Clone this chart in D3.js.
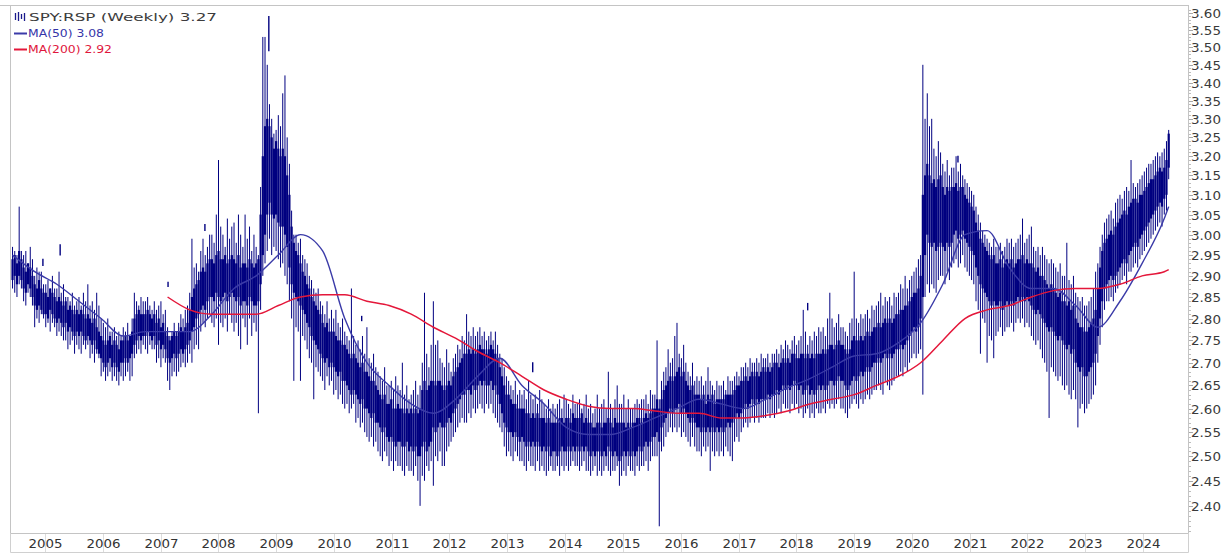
<!DOCTYPE html>
<html><head><meta charset="utf-8">
<script src="https://cdn.jsdelivr.net/npm/d3@7"></script>
<style>html,body{margin:0;padding:0;background:#fff;}svg{display:block;}</style>
</head><body>
<svg id="chart" width="1226" height="555"></svg>
<script>
// ---- DATA (bi-weekly OHLC of SPY:RSP) ----
const periodStart = "2004-06-09";   // first bar
const periodDays = 14;
const opens = [
2.89,2.90,2.88,2.90,2.89, 2.87,2.86,2.88,2.87,2.85, 2.83,2.82,2.83,2.82,2.81, 2.81,2.80,2.82,2.81,2.80,
2.79,2.80,2.79,2.78,2.79, 2.77,2.78,2.77,2.76,2.77, 2.76,2.77,2.76,2.75,2.76, 2.75,2.74,2.75,2.73,2.72,
2.71,2.70,2.69,2.70,2.71, 2.69,2.70,2.69,2.68,2.70, 2.70,2.71,2.70,2.71,2.72, 2.74,2.75,2.76,2.75,2.76,
2.76,2.77,2.76,2.75,2.76, 2.74,2.75,2.73,2.74,2.73, 2.71,2.70,2.71,2.72,2.71, 2.72,2.73,2.72,2.73,2.74,
2.75,2.77,2.78,2.80,2.81, 2.82,2.83,2.82,2.84,2.85, 2.85,2.84,2.86,2.85,2.84, 2.85,2.86,2.84,2.85,2.86,
2.85,2.84,2.85,2.83,2.84, 2.84,2.83,2.85,2.84,2.83, 2.83,2.84,2.88,2.95,3.00, 3.05,3.08,3.05,3.04,3.05,
3.03,3.02,3.02,3.00,2.97, 2.92,2.88,2.86,2.85,2.84, 2.83,2.82,2.81,2.79,2.78, 2.76,2.75,2.74,2.73,2.72,
2.71,2.70,2.71,2.69,2.70, 2.69,2.68,2.67,2.68,2.66, 2.66,2.65,2.64,2.63,2.64, 2.63,2.62,2.61,2.62,2.60,
2.60,2.59,2.58,2.59,2.57, 2.57,2.56,2.55,2.56,2.54, 2.53,2.54,2.53,2.52,2.53, 2.53,2.52,2.52,2.53,2.51,
2.52,2.51,2.52,2.50,2.50, 2.52,2.53,2.51,2.52,2.53, 2.56,2.55,2.56,2.57,2.56, 2.56,2.57,2.58,2.57,2.59,
2.60,2.61,2.62,2.63,2.63, 2.64,2.64,2.63,2.65,2.64, 2.65,2.66,2.65,2.66,2.65, 2.65,2.66,2.64,2.65,2.63,
2.61,2.59,2.57,2.56,2.55, 2.55,2.54,2.55,2.54,2.53, 2.54,2.53,2.52,2.53,2.52, 2.53,2.52,2.53,2.52,2.51,
2.52,2.51,2.52,2.50,2.51, 2.51,2.50,2.51,2.52,2.51, 2.51,2.52,2.51,2.52,2.51, 2.52,2.51,2.52,2.51,2.52,
2.51,2.50,2.51,2.50,2.51, 2.51,2.50,2.51,2.50,2.52, 2.51,2.50,2.51,2.50,2.49, 2.50,2.51,2.50,2.51,2.50,
2.51,2.50,2.51,2.52,2.51, 2.52,2.53,2.52,2.53,2.54, 2.54,2.55,2.53,2.56,2.57, 2.58,2.59,2.60,2.59,2.60,
2.60,2.61,2.59,2.60,2.59, 2.58,2.57,2.58,2.57,2.56, 2.56,2.55,2.56,2.55,2.56, 2.55,2.56,2.55,2.56,2.55,
2.56,2.55,2.56,2.57,2.56, 2.57,2.58,2.59,2.58,2.59, 2.60,2.61,2.60,2.61,2.62, 2.61,2.62,2.61,2.62,2.62,
2.62,2.63,2.62,2.63,2.63, 2.64,2.63,2.64,2.65,2.64, 2.65,2.64,2.65,2.66,2.65, 2.64,2.65,2.63,2.64,2.65,
2.63,2.64,2.63,2.64,2.65, 2.64,2.65,2.64,2.65,2.66, 2.66,2.65,2.66,2.67,2.66, 2.66,2.65,2.64,2.65,2.66,
2.67,2.66,2.67,2.68,2.67, 2.68,2.69,2.68,2.69,2.70, 2.70,2.71,2.70,2.71,2.72, 2.71,2.72,2.71,2.72,2.73,
2.73,2.74,2.73,2.74,2.75, 2.76,2.77,2.78,2.77,2.78, 2.80,2.85,2.95,3.00,2.98, 2.97,2.98,2.96,2.97,2.98,
2.97,2.96,2.98,2.97,2.98, 3.00,3.01,2.99,3.00,3.01, 2.99,2.98,2.97,2.96,2.95, 2.92,2.90,2.88,2.87,2.86,
2.85,2.84,2.83,2.84,2.83, 2.83,2.84,2.82,2.83,2.84, 2.83,2.84,2.83,2.84,2.85, 2.84,2.85,2.84,2.85,2.84,
2.83,2.82,2.81,2.82,2.81, 2.80,2.79,2.78,2.77,2.78, 2.77,2.76,2.75,2.76,2.75, 2.74,2.73,2.74,2.72,2.73,
2.70,2.69,2.68,2.69,2.67, 2.67,2.68,2.69,2.70,2.72, 2.76,2.80,2.84,2.87,2.88, 2.89,2.90,2.89,2.90,2.91,
2.92,2.93,2.94,2.93,2.95, 2.96,2.97,2.98,2.97,2.99, 3.00,3.01,3.02,3.03,3.04, 3.05,3.06,3.07,3.08,3.07,
3.09,3.10,3.17];
const closes = [
2.94,2.95,2.93,2.96,2.94, 2.92,2.91,2.93,2.92,2.90, 2.88,2.87,2.89,2.87,2.86, 2.86,2.85,2.87,2.86,2.85,
2.84,2.85,2.84,2.83,2.84, 2.82,2.83,2.82,2.81,2.82, 2.81,2.82,2.81,2.80,2.81, 2.80,2.79,2.80,2.78,2.77,
2.76,2.75,2.74,2.75,2.76, 2.74,2.75,2.74,2.73,2.75, 2.75,2.76,2.75,2.76,2.77, 2.80,2.81,2.82,2.81,2.81,
2.81,2.82,2.81,2.80,2.81, 2.79,2.80,2.78,2.79,2.77, 2.76,2.75,2.76,2.77,2.76, 2.77,2.78,2.77,2.78,2.79,
2.82,2.85,2.87,2.88,2.89, 2.91,2.92,2.91,2.93,2.94, 2.94,2.93,2.95,2.96,2.94, 2.94,2.95,2.93,2.94,2.95,
2.94,2.93,2.95,2.92,2.93, 2.93,2.92,2.94,2.93,2.92, 2.93,2.94,3.05,3.20,3.28, 3.30,3.28,3.25,3.22,3.24,
3.22,3.20,3.22,3.20,3.15, 3.10,3.02,2.98,2.96,2.95, 2.93,2.91,2.90,2.88,2.87, 2.85,2.84,2.83,2.82,2.81,
2.79,2.78,2.79,2.77,2.77, 2.77,2.76,2.75,2.75,2.74, 2.74,2.73,2.72,2.71,2.72, 2.71,2.70,2.69,2.70,2.68,
2.68,2.67,2.66,2.66,2.65, 2.64,2.63,2.62,2.63,2.61, 2.61,2.62,2.60,2.60,2.61, 2.60,2.60,2.59,2.60,2.59,
2.60,2.59,2.60,2.59,2.60, 2.64,2.66,2.64,2.65,2.66, 2.66,2.65,2.66,2.66,2.65, 2.64,2.65,2.66,2.65,2.67,
2.68,2.69,2.70,2.71,2.72, 2.72,2.73,2.72,2.73,2.72, 2.73,2.74,2.73,2.73,2.72, 2.73,2.74,2.73,2.72,2.71,
2.69,2.67,2.65,2.63,2.63, 2.62,2.61,2.61,2.60,2.60, 2.60,2.60,2.59,2.59,2.58, 2.59,2.58,2.59,2.58,2.58,
2.58,2.57,2.58,2.57,2.57, 2.57,2.57,2.58,2.58,2.57, 2.58,2.58,2.57,2.59,2.58, 2.58,2.58,2.59,2.57,2.58,
2.57,2.57,2.56,2.56,2.57, 2.57,2.56,2.57,2.57,2.58, 2.57,2.56,2.58,2.57,2.57, 2.57,2.57,2.56,2.57,2.56,
2.57,2.57,2.58,2.58,2.57, 2.58,2.59,2.58,2.59,2.60, 2.60,2.62,2.60,2.62,2.64, 2.65,2.66,2.67,2.66,2.67,
2.68,2.69,2.67,2.68,2.66, 2.65,2.64,2.65,2.63,2.63, 2.63,2.62,2.63,2.61,2.63, 2.62,2.63,2.61,2.62,2.62,
2.62,2.62,2.63,2.63,2.63, 2.63,2.64,2.65,2.65,2.66, 2.66,2.67,2.66,2.67,2.68, 2.67,2.68,2.67,2.68,2.69,
2.68,2.69,2.68,2.69,2.70, 2.70,2.69,2.70,2.71,2.70, 2.71,2.70,2.72,2.72,2.71, 2.71,2.72,2.72,2.71,2.72,
2.71,2.72,2.71,2.72,2.72, 2.72,2.73,2.72,2.73,2.74, 2.74,2.73,2.74,2.75,2.74, 2.74,2.73,2.72,2.73,2.75,
2.76,2.75,2.75,2.76,2.75, 2.76,2.77,2.76,2.77,2.78, 2.78,2.79,2.78,2.79,2.80, 2.79,2.80,2.79,2.80,2.81,
2.81,2.82,2.82,2.83,2.83, 2.84,2.85,2.86,2.86,2.87, 2.90,3.10,3.15,3.18,3.15, 3.13,3.14,3.12,3.14,3.15,
3.12,3.10,3.12,3.11,3.12, 3.12,3.13,3.11,3.12,3.12, 3.10,3.09,3.08,3.07,3.06, 3.03,3.01,2.99,2.98,2.97,
2.96,2.95,2.94,2.95,2.93, 2.93,2.94,2.92,2.93,2.94, 2.93,2.94,2.92,2.93,2.94, 2.94,2.95,2.93,2.94,2.93,
2.93,2.92,2.91,2.92,2.90, 2.90,2.89,2.88,2.87,2.88, 2.87,2.86,2.85,2.86,2.84, 2.84,2.83,2.84,2.82,2.83,
2.80,2.79,2.78,2.78,2.77, 2.77,2.78,2.79,2.80,2.82, 2.87,2.92,2.96,2.98,2.99, 3.00,3.01,3.00,3.02,3.03,
3.04,3.05,3.06,3.05,3.07, 3.08,3.09,3.09,3.08,3.10, 3.10,3.11,3.12,3.13,3.14, 3.14,3.15,3.16,3.17,3.16,
3.17,3.19,3.26];
const highs = [
2.97,2.96,2.95,3.07,2.96, 2.95,2.96,2.93,2.97,2.94, 2.90,2.92,2.91,2.91,2.88, 2.88,2.89,2.87,2.90,2.87,
2.87,2.91,2.86,2.88,2.85, 2.85,2.84,2.86,2.83,2.84, 2.85,2.83,2.86,2.84,2.88, 2.83,2.84,2.82,2.86,2.83,
2.80,2.79,2.78,2.80,2.77, 2.77,2.78,2.76,2.77,2.76, 2.78,2.77,2.79,2.76,2.80, 2.86,2.84,2.83,2.85,2.84,
2.84,2.85,2.83,2.82,2.84, 2.82,2.83,2.84,2.81,2.82, 2.78,2.76,2.77,2.79,2.77, 2.79,2.81,2.80,2.82,2.83,
2.86,2.99,2.92,2.93,2.91, 2.96,2.99,2.95,2.97,3.00, 3.00,2.98,3.05,3.19,3.02, 3.00,2.97,3.04,2.99,3.02,
3.03,2.98,3.05,3.00,2.97, 3.05,2.99,3.02,2.96,3.00, 2.97,2.95,3.12,3.53,3.53, 3.45,3.34,3.30,3.26,3.27,
3.31,3.28,3.37,3.42,3.25, 3.18,3.06,3.00,3.00,2.98, 2.99,2.95,2.94,2.93,2.90, 2.89,2.87,2.86,2.87,2.84,
2.83,2.81,2.84,2.80,2.82, 2.80,2.82,2.79,2.78,2.80, 2.77,2.76,2.75,2.87,2.76, 2.74,2.75,2.73,2.76,2.72,
2.78,2.71,2.70,2.72,2.69, 2.68,2.67,2.66,2.69,2.65, 2.65,2.66,2.64,2.67,2.65, 2.64,2.70,2.63,2.65,2.62,
2.63,2.64,2.66,2.63,2.65, 2.70,2.86,2.72,2.69,2.74, 2.84,2.74,2.75,2.71,2.70, 2.69,2.73,2.70,2.68,2.71,
2.72,2.74,2.73,2.76,2.75, 2.81,2.77,2.76,2.78,2.76, 2.77,2.78,2.76,2.77,2.75, 2.76,2.77,2.75,2.77,2.74,
2.72,2.71,2.69,2.67,2.66, 2.65,2.64,2.66,2.63,2.64, 2.63,2.64,2.62,2.66,2.63, 2.62,2.63,2.61,2.64,2.62,
2.61,2.60,2.62,2.60,2.61, 2.60,2.61,2.62,2.60,2.63, 2.62,2.61,2.60,2.63,2.61, 2.61,2.62,2.60,2.61,2.63,
2.60,2.61,2.59,2.60,2.63, 2.60,2.61,2.62,2.60,2.68, 2.61,2.60,2.62,2.65,2.61, 2.61,2.63,2.60,2.62,2.60,
2.60,2.61,2.62,2.61,2.62, 2.62,2.63,2.61,2.64,2.63, 2.63,2.75,2.62,2.66,2.68, 2.69,2.73,2.70,2.71,2.76,
2.79,2.72,2.71,2.74,2.70, 2.68,2.67,2.70,2.66,2.67, 2.66,2.67,2.65,2.66,2.69, 2.66,2.65,2.64,2.66,2.65,
2.65,2.66,2.64,2.67,2.66, 2.66,2.67,2.68,2.67,2.69, 2.69,2.70,2.69,2.71,2.70, 2.70,2.71,2.70,2.72,2.71,
2.71,2.72,2.70,2.72,2.72, 2.73,2.72,2.74,2.73,2.75, 2.74,2.73,2.75,2.76,2.74, 2.75,2.76,2.82,2.77,2.74,
2.76,2.75,2.77,2.76,2.78, 2.77,2.78,2.76,2.80,2.86, 2.80,2.78,2.79,2.81,2.78, 2.78,2.77,2.76,2.79,2.80,
2.91,2.80,2.79,2.81,2.80, 2.81,2.82,2.80,2.83,2.82, 2.83,2.84,2.86,2.83,2.85, 2.84,2.85,2.83,2.86,2.85,
2.86,2.88,2.87,2.90,2.87, 2.89,2.90,2.91,2.92,2.94, 2.95,3.45,3.30,3.37,3.28, 3.30,3.22,3.20,3.24,3.21,
3.18,3.16,3.19,3.15,3.17, 3.17,3.20,3.16,3.18,3.15, 3.14,3.13,3.12,3.11,3.10, 3.07,3.05,3.03,3.01,3.00,
2.99,2.98,2.97,2.99,2.97, 2.97,2.98,2.96,2.97,2.99, 2.98,2.99,2.97,2.98,2.99, 3.00,3.04,2.98,2.99,3.00,
3.02,2.97,2.96,2.97,2.95, 2.97,2.95,2.94,2.93,2.94, 2.93,2.92,2.91,2.93,2.90, 2.90,2.98,2.89,2.88,2.90,
2.86,2.85,2.84,2.85,2.83, 2.83,2.84,2.85,2.87,2.91, 2.93,2.97,3.00,3.03,3.04, 3.05,3.06,3.04,3.08,3.09,
3.10,3.09,3.11,3.12,3.11, 3.19,3.13,3.12,3.13,3.14, 3.15,3.16,3.17,3.18,3.18, 3.19,3.20,3.21,3.20,3.21,
3.22,3.24,3.27];
const lows = [
2.87,2.86,2.85,2.88,2.87, 2.84,2.83,2.86,2.85,2.83, 2.78,2.80,2.79,2.81,2.80, 2.78,2.79,2.77,2.79,2.78,
2.76,2.77,2.76,2.75,2.75, 2.73,2.74,2.75,2.72,2.74, 2.73,2.72,2.74,2.73,2.74, 2.71,2.72,2.70,2.72,2.71,
2.67,2.68,2.66,2.67,2.68, 2.66,2.67,2.66,2.65,2.67, 2.66,2.67,2.68,2.66,2.67, 2.71,2.72,2.73,2.72,2.74,
2.73,2.72,2.74,2.73,2.73, 2.70,2.71,2.69,2.71,2.70, 2.66,2.64,2.67,2.68,2.67, 2.68,2.69,2.70,2.69,2.70,
2.72,2.70,2.73,2.74,2.73, 2.77,2.79,2.78,2.80,2.81, 2.79,2.78,2.80,2.74,2.79, 2.78,2.80,2.77,2.81,2.79,
2.77,2.79,2.76,2.73,2.80, 2.78,2.74,2.80,2.76,2.79, 2.77,2.59,2.82,2.90,2.93, 2.96,2.99,2.95,2.97,2.96,
2.94,2.92,2.93,2.90,2.88, 2.84,2.80,2.66,2.78,2.77, 2.66,2.76,2.75,2.73,2.71, 2.70,2.62,2.69,2.68,2.67,
2.66,2.64,2.67,2.65,2.66, 2.63,2.64,2.62,2.63,2.61, 2.60,2.61,2.59,2.60,2.61, 2.57,2.58,2.56,2.57,2.55,
2.54,2.53,2.54,2.52,2.53, 2.51,2.50,2.49,2.51,2.50, 2.48,2.49,2.47,2.49,2.48, 2.48,2.47,2.46,2.48,2.47,
2.47,2.46,2.48,2.45,2.40, 2.46,2.45,2.48,2.47,2.49, 2.44,2.50,2.49,2.51,2.48, 2.48,2.51,2.52,2.53,2.54,
2.55,2.56,2.57,2.58,2.57, 2.57,2.59,2.58,2.60,2.59, 2.60,2.61,2.60,2.59,2.61, 2.60,2.61,2.59,2.58,2.57,
2.56,2.55,2.52,2.50,2.51, 2.50,2.49,2.51,2.50,2.49, 2.49,2.48,2.47,2.49,2.48, 2.48,2.47,2.49,2.47,2.48,
2.47,2.46,2.47,2.48,2.47, 2.47,2.48,2.46,2.48,2.47, 2.48,2.47,2.48,2.49,2.48, 2.48,2.47,2.48,2.49,2.47,
2.47,2.46,2.47,2.48,2.46, 2.47,2.46,2.47,2.48,2.47, 2.46,2.47,2.47,2.48,2.44, 2.46,2.47,2.46,2.48,2.47,
2.47,2.46,2.48,2.47,2.48, 2.48,2.49,2.47,2.49,2.50, 2.50,2.50,2.36,2.51,2.52, 2.54,2.55,2.56,2.55,2.56,
2.55,2.56,2.54,2.55,2.54, 2.53,2.52,2.54,2.52,2.51, 2.51,2.50,2.52,2.51,2.52, 2.47,2.51,2.50,2.51,2.50,
2.51,2.50,2.52,2.51,2.50, 2.49,2.53,2.54,2.53,2.55, 2.56,2.57,2.56,2.57,2.58, 2.57,2.58,2.57,2.58,2.58,
2.58,2.59,2.58,2.59,2.58, 2.59,2.60,2.59,2.61,2.60, 2.60,2.59,2.61,2.60,2.61, 2.59,2.60,2.58,2.59,2.60,
2.58,2.59,2.58,2.60,2.59, 2.59,2.60,2.59,2.61,2.60, 2.61,2.60,2.61,2.62,2.60, 2.60,2.59,2.58,2.60,2.61,
2.62,2.61,2.60,2.62,2.61, 2.62,2.63,2.62,2.63,2.64, 2.64,2.65,2.64,2.63,2.66, 2.65,2.64,2.65,2.66,2.67,
2.67,2.68,2.67,2.69,2.68, 2.70,2.71,2.72,2.71,2.72, 2.73,2.63,2.85,2.88,2.86, 2.88,2.87,2.86,2.89,2.90,
2.90,2.88,2.91,2.89,2.92, 2.93,2.94,2.92,2.93,2.95, 2.92,2.91,2.90,2.89,2.88, 2.84,2.82,2.72,2.80,2.79,
2.70,2.76,2.75,2.71,2.76, 2.77,2.78,2.76,2.77,2.78, 2.78,2.79,2.77,2.79,2.80, 2.79,2.80,2.78,2.79,2.78,
2.76,2.75,2.74,2.75,2.73, 2.71,2.70,2.68,2.58,2.69, 2.68,2.67,2.66,2.67,2.65, 2.64,2.65,2.63,2.62,2.64,
2.62,2.56,2.60,2.61,2.59, 2.60,2.61,2.62,2.63,2.65, 2.70,2.74,2.78,2.82,2.84, 2.84,2.85,2.84,2.86,2.87,
2.88,2.89,2.90,2.88,2.91, 2.91,2.92,2.93,2.92,2.94, 2.95,2.96,2.97,2.98,2.99, 3.00,3.01,3.02,3.03,3.02,
3.05,3.06,3.14];

// isolated stray weekly prints
const strayDates = ["2004-12-18","2005-04-06","2007-02-17","2007-10-08","2008-11-15","2010-06-25","2013-06-10","2018-03-14","2020-10-19"];
const strayHighs = [2.940,2.975,2.885,3.025,3.590,2.805,2.700,2.835,3.200];
const strayLows  = [2.925,2.950,2.875,3.010,3.490,2.795,2.680,2.820,3.185];

// moving averages, sampled every 10 bars (last sample = last bar)
const maStep = 10;
const ma50 = [2.95,2.91,2.88,2.84,2.80,2.76,2.77,2.77,2.77,2.81, 2.87,2.90,2.95,3.00,2.96,2.80,2.70,2.65,2.61,2.59,
 2.62,2.67,2.71,2.65,2.61,2.56,2.545,2.545,2.56,2.58, 2.60,2.62,2.61,2.60,2.62,2.645,2.665,2.69,2.715,2.72,
 2.745,2.79,2.88,3.00,3.01,2.92,2.87,2.87,2.83,2.78, 2.84,2.93,3.04,3.07];
const ma200Start = 70;
const ma200 = [2.85,2.82,2.81,2.81,2.81,2.83,2.85,2.855,2.855,2.84, 2.83,2.81,2.78,2.755,2.725,2.70,2.67,2.64,2.62,2.605,
 2.60,2.60,2.595,2.59,2.59,2.58,2.58,2.585,2.595,2.61, 2.62,2.63,2.65,2.67,2.70,2.75,2.80,2.82,2.83,2.85,
 2.865,2.87,2.87,2.88,2.90,2.91,2.915];

const yTicks = [2.40,2.45,2.50,2.55,2.60,2.65,2.70,2.75,2.80,2.85,2.90,2.95,3.00,3.05,3.10,3.15,3.20,3.25,3.30,3.35,3.40,3.45,3.50,3.55,3.60];
const years = [2005,2006,2007,2008,2009,2010,2011,2012,2013,2014,2015,2016,2017,2018,2019,2020,2021,2022,2023,2024];
const legendTitle = "SPY:RSP (Weekly) 3.27";
const legendMA50 = "MA(50) 3.08";
const legendMA200 = "MA(200) 2.92";

// ---- CHART ----
const svg = d3.select("#chart");
const P = {left:10, right:1188, top:5, bottom:533};
const x = d3.scaleTime().domain([new Date(2004,4,24), new Date(2024,9,12)]).range([P.left, P.right]);
const y = d3.scaleLog().domain([2.347, 3.624]).range([P.bottom, P.top]);
const parse = d3.timeParse("%Y-%m-%d");
const t0 = parse(periodStart);
const n = Math.min(opens.length, closes.length, highs.length, lows.length);
const bars = d3.range(n).map(i => ({d: d3.timeDay.offset(t0, periodDays*i), o: opens[i], h: highs[i], l: lows[i], c: closes[i]}));

svg.append("rect").attr("width",1226).attr("height",555).attr("fill","#fff");

// frame
const frameCol = "#c4c4c4";
svg.append("rect").attr("x",P.left+0.5).attr("y",P.top+0.5).attr("width",P.right-P.left).attr("height",P.bottom-P.top)
  .attr("fill","none").attr("stroke",frameCol);
svg.append("line").attr("x1",0).attr("x2",P.left).attr("y1",P.top+0.5).attr("y2",P.top+0.5).attr("stroke",frameCol);
svg.append("line").attr("x1",P.left+0.5).attr("x2",P.right+0.5).attr("y1",552.5).attr("y2",552.5).attr("stroke","#d0d0d0");
svg.append("line").attr("x1",P.left+0.5).attr("x2",P.left+0.5).attr("y1",P.bottom).attr("y2",552.5).attr("stroke","#d0d0d0");
svg.append("line").attr("x1",P.right+0.5).attr("x2",P.right+0.5).attr("y1",P.bottom).attr("y2",552.5).attr("stroke","#d0d0d0");

// x axis year ticks and labels
const gx = svg.append("g");
years.forEach(yr => {
  const xx = Math.round(x(new Date(yr,0,1))) + 0.5;
  gx.append("line").attr("x1",xx).attr("x2",xx).attr("y1",P.bottom+1).attr("y2",552).attr("stroke","#dcdcdc");
  gx.append("text").attr("x",xx).attr("y",548).attr("text-anchor","middle")
    .attr("font-family","DejaVu Sans, Verdana, sans-serif").attr("font-size",12.5).attr("fill","#333")
    .attr("textLength",34).attr("lengthAdjust","spacingAndGlyphs").text(String(yr));
});

// y axis (log) ticks
const gy = svg.append("g");
const minor = d3.range(235, 362).map(v => v/100).filter(v => y(v) >= P.top && y(v) <= P.bottom);
minor.forEach(v => {
  const yy = Math.round(y(v)) + 0.5;
  gy.append("line").attr("x1",P.right+1).attr("x2",P.right+3).attr("y1",yy).attr("y2",yy).attr("stroke","#bdbdbd");
});
yTicks.forEach(v => {
  const yy = Math.round(y(v)) + 0.5;
  gy.append("line").attr("x1",P.right+1).attr("x2",P.right+5).attr("y1",yy).attr("y2",yy).attr("stroke","#a8a8a8");
  gy.append("text").attr("x",1191).attr("y",yy+4).attr("font-family","DejaVu Sans, Verdana, sans-serif")
    .attr("font-size",11.5).attr("fill","#3a3a3a").attr("textLength",30).attr("lengthAdjust","spacingAndGlyphs")
    .text(v.toFixed(2));
});

// clip
svg.append("clipPath").attr("id","clip").append("rect").attr("x",P.left+1).attr("y",P.top+1)
  .attr("width",P.right-P.left-1).attr("height",P.bottom-P.top-1);
const plot = svg.append("g").attr("clip-path","url(#clip)");

// price bars: 1px high-low line + dense open/close body
plot.append("g").selectAll("line").data(bars).join("line")
  .attr("x1",d=>x(d.d)).attr("x2",d=>x(d.d)).attr("y1",d=>y(d.h)).attr("y2",d=>y(d.l))
  .attr("stroke","#000080").attr("stroke-width",1);
plot.append("g").selectAll("rect").data(bars).join("rect")
  .attr("x",d=>x(d.d)-1.1).attr("width",2.2)
  .attr("y",d=>y(Math.max(d.o,d.c))).attr("height",d=>Math.max(1,y(Math.min(d.o,d.c))-y(Math.max(d.o,d.c))))
  .attr("fill","#000080");
// stray prints
plot.append("g").selectAll("line").data(strayDates.map((s,i)=>({d:parse(s),h:strayHighs[i],l:strayLows[i]}))).join("line")
  .attr("x1",d=>x(d.d)).attr("x2",d=>x(d.d)).attr("y1",d=>y(d.h)-0.5).attr("y2",d=>y(d.l)+0.5)
  .attr("stroke","#000080").attr("stroke-width",1.4);

// moving averages
const idxDate = i => d3.timeDay.offset(t0, periodDays*i);
const ma50Pts = ma50.map((v,k) => ({d: idxDate(Math.min(k*maStep, n-1)), v}));
const ma200Pts = ma200.map((v,k) => ({d: idxDate(Math.min(ma200Start + k*maStep, n-1)), v}));
const line = d3.line().x(d=>x(d.d)).y(d=>y(d.v)).curve(d3.curveMonotoneX);
plot.append("path").datum(ma50Pts).attr("d",line).attr("fill","none").attr("stroke","#3b3ba8").attr("stroke-width",1.4);
plot.append("path").datum(ma200Pts).attr("d",line).attr("fill","none").attr("stroke","#e4173a").attr("stroke-width",1.5);

// legend
const lg = svg.append("g").attr("font-family","DejaVu Sans, Verdana, sans-serif").attr("font-size",11);
[[15,13,20],[18,12,21],[21,14,19],[24,13,21]].forEach(([bx,t,b]) => {
  lg.append("line").attr("x1",bx+0.5).attr("x2",bx+0.5).attr("y1",t).attr("y2",b).attr("stroke","#1a1a8c").attr("stroke-width",1.3);
});
lg.append("text").attr("x",29).attr("y",20.5).attr("fill","#3c3c3c").attr("textLength",188).attr("lengthAdjust","spacingAndGlyphs").text(legendTitle);
lg.append("line").attr("x1",14).attr("x2",27).attr("y1",33.5).attr("y2",33.5).attr("stroke","#3b3ba8").attr("stroke-width",2);
lg.append("text").attr("x",28).attr("y",37).attr("fill","#3535a8").attr("textLength",76).attr("lengthAdjust","spacingAndGlyphs").text(legendMA50);
lg.append("line").attr("x1",14).attr("x2",27).attr("y1",49.5).attr("y2",49.5).attr("stroke","#e4173a").attr("stroke-width",2);
lg.append("text").attr("x",28).attr("y",53).attr("fill","#e0163c").attr("textLength",84).attr("lengthAdjust","spacingAndGlyphs").text(legendMA200);
</script>
</body></html>
